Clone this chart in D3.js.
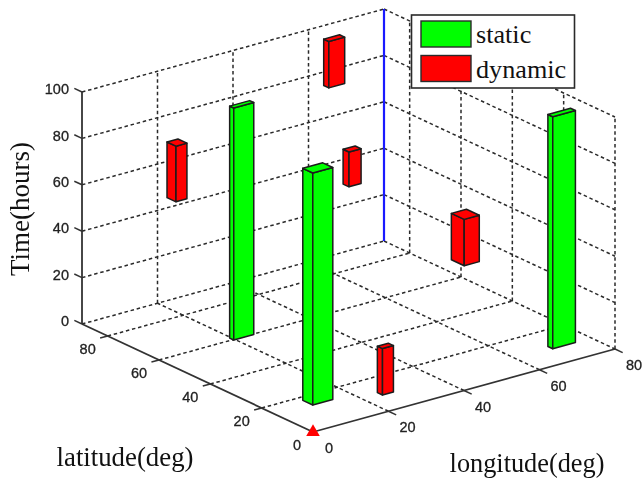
<!DOCTYPE html>
<html>
<head>
<meta charset="utf-8">
<script src="https://d3js.org/d3.v7.min.js"></script>
<style>
html, body { margin: 0; padding: 0; background: #fff; }
svg { display: block; filter: blur(0.5px); }
</style>
</head>
<body>
<div id="chart"></div>
<script>
// tick labels
var lonTicks = [0, 20, 40, 60, 80];
var latTicks = [0, 20, 40, 60, 80];
var timeTicks = [0, 20, 40, 60, 80, 100];

// static bars
var staticLon = [19.6, 9.6, 69.7];
var staticLat = [59.7, 14.2, 9.1];
var staticLonSize = [5.3, 5.3, 6];
var staticLatSize = [1.6, 3.9, 1.9];
var staticStart = [0, 0, 0];
var staticEnd = [100, 100, 100];

// dynamic bars
var dynamicLon = [59.2, 9.6, 52.1, 59.7, 24.8];
var dynamicLat = [80.9, 67.5, 62.6, 28.9, 9.4];
var dynamicLonSize = [4.2, 2.9, 3.2, 4, 2.9];
var dynamicLatSize = [2, 3.5, 2.3, 5, 2];
var dynamicStart = [80, 60, 50, 30, 0];
var dynamicEnd = [100, 84, 65, 50, 20];

var legendLabels = ["static", "dynamic"];
var legendColors = ["#00ff00", "#ff0000"];

var width = 642, height = 478;
var originX = 313, originY = 432;
var lonMax = 80, latMax = 90, timeMax = 100;

var svg = d3.select("#chart").append("svg")
  .attr("width", width)
  .attr("height", height);

// oblique projection, one scale for each screen component
var lonX = d3.scaleLinear().domain([0, lonMax]).range([0, 302]);
var lonY = d3.scaleLinear().domain([0, lonMax]).range([0, -83]);
var latX = d3.scaleLinear().domain([0, latMax]).range([0, -231]);
var latY = d3.scaleLinear().domain([0, latMax]).range([0, -108]);
var timeY = d3.scaleLinear().domain([0, timeMax]).range([0, -232]);

function project(lon, lat, t) {
  return [
    originX + lonX(lon) + latX(lat),
    originY + lonY(lon) + latY(lat) + timeY(t)
  ];
}

var line = d3.line();

function seg(a, b, color, w, dash) {
  svg.append("path")
    .attr("d", line([project(a[0], a[1], a[2]), project(b[0], b[1], b[2])]))
    .attr("fill", "none")
    .attr("stroke", color)
    .attr("stroke-width", w)
    .attr("stroke-dasharray", dash || null);
}

var gridColor = "#2a2a2a", gridDash = "3.5,2.8", gridW = 1.5;

//
// Dashed grid: back walls and floor
//
timeTicks.forEach(function(t) {
  seg([0, latMax, t], [lonMax, latMax, t], gridColor, gridW, gridDash);
  seg([lonMax, latMax, t], [lonMax, 0, t], gridColor, gridW, gridDash);
});
lonTicks.slice(1).forEach(function(lon) {
  seg([lon, latMax, 0], [lon, latMax, timeMax], gridColor, gridW, gridDash);
  if (lon < lonMax) seg([lon, 0, 0], [lon, latMax, 0], gridColor, gridW, gridDash);
});
latTicks.slice(1).forEach(function(lat) {
  seg([lonMax, lat, 0], [lonMax, lat, timeMax], gridColor, gridW, gridDash);
  seg([0, lat, 0], [lonMax, lat, 0], gridColor, gridW, gridDash);
});
seg([lonMax, 0, 0], [lonMax, 0, timeMax], gridColor, gridW, gridDash);

// blue back corner
seg([lonMax, latMax, 0], [lonMax, latMax, timeMax], "#1a1aff", 2.2);

//
// Axes and tick marks
//
var axisColor = "#333";
seg([0, latMax, 0], [0, latMax, timeMax], axisColor, 1.8);
seg([0, 0, 0], [0, latMax, 0], axisColor, 1.8);
seg([0, 0, 0], [lonMax, 0, 0], axisColor, 1.8);

timeTicks.forEach(function(t) {
  seg([0, latMax, t], [0, latMax + 3, t], axisColor, 1.5);
});
lonTicks.slice(1).forEach(function(lon) {
  seg([lon, 0, 0], [lon, -3, 0], axisColor, 1.5);
});
latTicks.slice(1).forEach(function(lat) {
  seg([0, lat, 0], [-2, lat, 0], axisColor, 1.5);
});

//
// Bars
//
function box(lon, lat, dLon, dLat, t0, t1, color) {
  var lon1 = lon + dLon, lat1 = lat + dLat;
  var faces = [
    [[lon, lat, t0], [lon, lat1, t0], [lon, lat1, t1], [lon, lat, t1]],
    [[lon, lat, t0], [lon1, lat, t0], [lon1, lat, t1], [lon, lat, t1]],
    [[lon, lat, t1], [lon1, lat, t1], [lon1, lat1, t1], [lon, lat1, t1]]
  ];
  svg.append("g").selectAll("path")
    .data(faces)
    .enter().append("path")
    .attr("d", function(d) {
      return line.curve(d3.curveLinearClosed)(d.map(function(p) { return project(p[0], p[1], p[2]); }));
    })
    .attr("fill", color)
    .attr("stroke", "#1c1c1c")
    .attr("stroke-width", 1.5)
    .attr("stroke-linejoin", "round");
  line.curve(d3.curveLinear);
}

staticLon.forEach(function(d, i) {
  box(d, staticLat[i], staticLonSize[i], staticLatSize[i], staticStart[i], staticEnd[i], legendColors[0]);
});
dynamicLon.forEach(function(d, i) {
  box(d, dynamicLat[i], dynamicLonSize[i], dynamicLatSize[i], dynamicStart[i], dynamicEnd[i], legendColors[1]);
});

// red marker at the origin
svg.append("path")
  .attr("d", d3.symbol().type(d3.symbolTriangle).size(80)())
  .attr("transform", "translate(" + project(0, 0, 0) + ")")
  .attr("fill", "#ff0000");

//
// Tick labels
//
function tickLabels(values, pos, anchor) {
  svg.append("g")
    .attr("font-family", "'Liberation Sans', Arial, sans-serif")
    .attr("font-size", 14.5)
    .attr("fill", "#222")
    .attr("stroke", "#222")
    .attr("stroke-width", 0.3)
    .attr("text-anchor", anchor)
    .selectAll("text")
    .data(values)
    .enter().append("text")
    .attr("x", function(d) { return pos(d)[0]; })
    .attr("y", function(d) { return pos(d)[1]; })
    .attr("dy", "0.36em")
    .text(function(d) { return d; });
}

tickLabels(timeTicks, function(d) {
  var p = project(0, latMax, d);
  return [p[0] - 13, p[1] - 3];
}, "end");
tickLabels(lonTicks, function(d) {
  var p = project(d, 0, 0);
  return [p[0] + (d === 0 ? 16 : 19), p[1] + 16];
}, "middle");
tickLabels(latTicks, function(d) {
  var p = project(0, d, 0);
  return [p[0] - (d === 0 ? 16 : 20), p[1] + 13];
}, "middle");

//
// Axis titles
//
var serif = "'Liberation Serif', 'Times New Roman', serif";

function title(txt, x, y, size, rot) {
  svg.append("text")
    .attr("transform", "translate(" + x + "," + y + ")" + (rot ? " rotate(" + rot + ")" : ""))
    .attr("font-family", serif)
    .attr("font-size", size)
    .attr("fill", "#111")
    .attr("text-anchor", "middle")
    .text(txt);
}

title("Time(hours)", 29, 209, 27, -90);
title("latitude(deg)", 125, 466, 26.8);
title("longitude(deg)", 527, 472, 26.3);

//
// Legend
//
var legend = svg.append("g");

legend.append("rect")
  .attr("x", 411.5)
  .attr("y", 15)
  .attr("width", 163)
  .attr("height", 73)
  .attr("fill", "#fff")
  .attr("stroke", "#2a2a2a")
  .attr("stroke-width", 1.6);

var items = legend.selectAll("g")
  .data(legendLabels)
  .enter().append("g")
  .attr("transform", function(d, i) { return "translate(0," + i * 34.5 + ")"; });

items.append("rect")
  .attr("x", 421)
  .attr("y", 21)
  .attr("width", 50)
  .attr("height", 26)
  .attr("fill", function(d, i) { return legendColors[i]; })
  .attr("stroke", "#2a2a2a")
  .attr("stroke-width", 1.4);

items.append("text")
  .attr("x", 476)
  .attr("y", 43)
  .attr("font-family", serif)
  .attr("font-size", 26.2)
  .attr("fill", "#111")
  .text(function(d) { return d; });
</script>
</body>
</html>
